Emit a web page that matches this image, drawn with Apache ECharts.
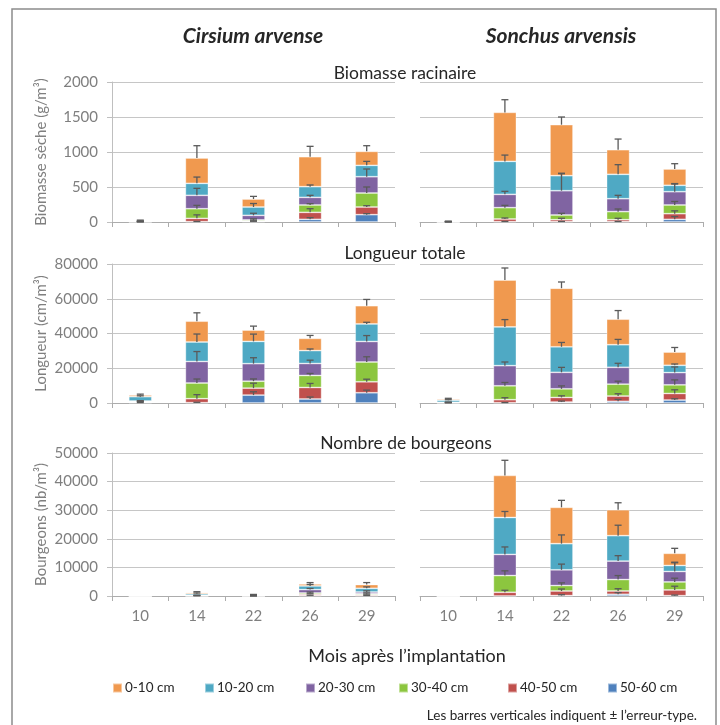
<!DOCTYPE html>
<html>
<head>
<meta charset="utf-8">
<script src="https://cdn.jsdelivr.net/npm/echarts@6/dist/echarts.min.js"></script>
<style>html,body{margin:0;padding:0;background:#fff}#c{width:720px;height:725px}</style>
</head>
<body>
<div id="c"></div>
<script>
// ---------- DATA ----------
const categories = ['10', '14', '22', '26', '29'];
const depths = ['0-10 cm', '10-20 cm', '20-30 cm', '30-40 cm', '40-50 cm', '50-60 cm'];
const species = ['Cirsium arvense', 'Sonchus arvensis'];
const panelTitles = ['Biomasse racinaire', 'Longueur totale', 'Nombre de bourgeons'];
const yNames = ['Biomasse sèche (g/m³)', 'Longueur (cm/m³)', 'Bourgeons (nb/m³)'];
const yMax = [2000, 80000, 50000];
const yStep = [500, 20000, 10000];

// rows: depth 0-10, 10-20, 20-30, 30-40, 40-50, 50-60 ; columns: months 10,14,22,26,29
const cirsiumBiomass = [
  [6, 362, 114, 428, 200],
  [5, 171, 119, 153, 162],
  [3, 191, 65, 109, 233],
  [2, 138, 15, 105, 200],
  [2, 47, 10, 100, 109],
  [1, 5, 5, 38, 105]
];
const cirsiumBiomassErr = [
  [8, 176, 38, 148, 81],
  [3, 90, 50, 24, 57],
  [2, 100, 30, 29, 110],
  [2, 48, 15, 19, 86],
  [1, 50, 10, 52, 19],
  [1, 3, 5, 24, 14]
];
const sonchusBiomass = [
  [5, 700, 728, 352, 233],
  [2, 471, 215, 348, 91],
  [1, 190, 347, 185, 190],
  [1, 162, 67, 115, 124],
  [1, 38, 28, 28, 81],
  [0, 5, 5, 5, 38]
];
const sonchusBiomassErr = [
  [3, 181, 110, 152, 76],
  [1, 90, 28, 138, 25],
  [1, 43, 250, 48, 110],
  [1, 33, 24, 38, 50],
  [1, 14, 20, 20, 40],
  [0, 3, 3, 3, 40]
];
const cirsiumLength = [
  [950, 12000, 6500, 7050, 10500],
  [2500, 11200, 12800, 7400, 10100],
  [300, 12400, 10100, 6900, 11800],
  [250, 9000, 4000, 6900, 11400],
  [450, 2300, 4000, 6650, 6300],
  [150, 200, 4550, 2300, 5900]
];
const cirsiumLengthErr = [
  [500, 4800, 2300, 1700, 3600],
  [500, 4600, 4200, 950, 950],
  [200, 5700, 3400, 1900, 3400],
  [200, 2300, 1300, 1150, 3000],
  [300, 2300, 2850, 2300, 1500],
  [100, 200, 1900, 1150, 1500]
];
const sonchusLength = [
  [700, 27000, 33700, 14700, 7600],
  [1200, 22300, 14700, 13000, 4200],
  [150, 11600, 9500, 9700, 7050],
  [100, 8000, 4950, 6850, 4950],
  [100, 1750, 2650, 3050, 3800],
  [50, 150, 550, 950, 1700]
];
const sonchusLengthErr = [
  [400, 6900, 3600, 4950, 2650],
  [300, 4200, 2500, 3050, 750],
  [100, 2100, 2850, 2300, 3250],
  [100, 1900, 1700, 1700, 2850],
  [100, 1150, 950, 1350, 2100],
  [50, 100, 550, 1150, 750]
];
const cirsiumBuds = [
  [0, 450, 120, 700, 1300],
  [0, 550, 250, 1290, 1290],
  [0, 100, 50, 1170, 600],
  [0, 50, 30, 470, 350],
  [0, 50, 20, 440, 350],
  [0, 0, 0, 150, 100]
];
const cirsiumBudsErr = [
  [0, 300, 80, 470, 700],
  [0, 300, 80, 500, 500],
  [0, 100, 30, 400, 400],
  [0, 50, 20, 300, 300],
  [0, 50, 20, 200, 200],
  [0, 0, 0, 100, 100]
];
const sonchusBuds = [
  [0, 14700, 12700, 9050, 4250],
  [0, 12900, 9150, 8900, 2100],
  [0, 7400, 5500, 6450, 3650],
  [0, 5850, 1900, 4000, 2800],
  [0, 1300, 1600, 1150, 2000],
  [0, 0, 150, 600, 120]
];
const sonchusBudsErr = [
  [0, 5300, 2450, 2450, 1750],
  [0, 2100, 3050, 3650, 1150],
  [0, 2600, 2000, 1900, 3050],
  [0, 1650, 950, 1400, 1300],
  [0, 700, 700, 800, 1300],
  [0, 0, 300, 600, 200]
];

// ---------- STYLE / LAYOUT ----------
const colors = ['#F0994F', '#4FA9C4', '#8064A2', '#8CC63F', '#C0504D', '#4F81BD'];
const FONT = 'Lato';
const panels = [
  [cirsiumBiomass, cirsiumBiomassErr], [sonchusBiomass, sonchusBiomassErr],
  [cirsiumLength, cirsiumLengthErr], [sonchusLength, sonchusLengthErr],
  [cirsiumBuds, cirsiumBudsErr], [sonchusBuds, sonchusBudsErr]
];
const gridTops = [82, 264, 453];
const gridHeights = [140, 139, 143];
const gridLefts = [112, 420];
const gridWidth = 283;

const grid = [], xAxis = [], yAxis = [], series = [];
for (let g = 0; g < 6; g++) {
  const row = Math.floor(g / 2), col = g % 2;
  grid.push({ left: gridLefts[col], top: gridTops[row], width: gridWidth, height: gridHeights[row], containLabel: false });
  xAxis.push({
    gridIndex: g, type: 'category', data: categories,
    axisLine: { lineStyle: { color: '#ACACAC', width: 1 } },
    axisTick: { show: true, length: 5, lineStyle: { color: '#ACACAC' } },
    axisLabel: { show: row === 2, color: '#7F7F7F', fontSize: 15, fontFamily: FONT, margin: 13 },
    splitLine: { show: false }
  });
  yAxis.push({
    gridIndex: g, type: 'value', min: 0, max: yMax[row], interval: yStep[row],
    axisLine: { show: col === 0, lineStyle: { color: '#BFBFBF', width: 1 } },
    axisTick: { show: col === 0, length: 5, lineStyle: { color: '#BFBFBF' } },
    axisLabel: { show: col === 0, color: '#7F7F7F', fontSize: 15, fontFamily: FONT, margin: 14, formatter: v => String(v) },
    splitLine: { lineStyle: { color: '#C6C6C6', width: 1 } },
    name: col === 0 ? yNames[row] : '',
    nameLocation: 'middle', nameGap: 63,
    nameTextStyle: { color: '#7F7F7F', fontSize: 15, fontFamily: FONT }
  });
  const vals = panels[g][0], errs = panels[g][1];
  // bars: bottom (50-60) first
  for (let d = depths.length - 1; d >= 0; d--) {
    series.push({
      type: 'bar', name: depths[d], xAxisIndex: g, yAxisIndex: g, stack: 's' + g,
      data: vals[d], barWidth: 23,
      itemStyle: { color: colors[d], borderColor: 'rgba(255,255,255,0.45)', borderWidth: 0.8 },
      emphasis: { disabled: true }
    });
  }
  // error bars at cumulative top of each segment
  const errData = [];
  for (let j = 0; j < categories.length; j++) {
    let cum = 0;
    for (let d = depths.length - 1; d >= 0; d--) {
      cum += vals[d][j];
      if (vals[d][j] > 0 || errs[d][j] > 0) errData.push([j, cum, cum + errs[d][j]]);
    }
  }
  series.push({
    type: 'custom', xAxisIndex: g, yAxisIndex: g, z: 5, silent: true,
    encode: { x: 0, y: [1, 2] },
    data: errData,
    renderItem: function (params, api) {
      const x = api.value(0);
      const p0 = api.coord([x, api.value(1)]);
      const p1 = api.coord([x, api.value(2)]);
      const st = { stroke: '#5A5A5A', lineWidth: 1.3 };
      return {
        type: 'group', children: [
          { type: 'line', shape: { x1: p0[0], y1: p0[1], x2: p1[0], y2: p1[1] }, style: st },
          { type: 'line', shape: { x1: p1[0] - 3.5, y1: p1[1], x2: p1[0] + 3.5, y2: p1[1] }, style: st }
        ]
      };
    }
  });
}

const legendLeft = [112, 204, 305, 398, 507, 607];
const legend = depths.map((d, k) => ({
  data: [d], left: legendLeft[k], top: 681, padding: 0, itemGap: 0,
  itemWidth: 9, itemHeight: 9, icon: 'rect', selectedMode: false,
  textStyle: { fontSize: 13.5, color: '#262626', fontFamily: FONT, padding: [0, 0, 0, -2] }
}));

const textColor = '#262626';
const graphic = [
  { type: 'rect', shape: { x: 12, y: 9, width: 704, height: 800 }, style: { fill: 'none', stroke: '#8C8C8C', lineWidth: 1.5 }, silent: true },
  { type: 'text', x: 253, y: 36, style: { text: species[0], fontSize: 21, fontWeight: 'bold', fontStyle: 'italic', fontFamily: FONT, fill: textColor, align: 'center', verticalAlign: 'middle' } },
  { type: 'text', x: 561, y: 36, style: { text: species[1], fontSize: 21, fontWeight: 'bold', fontStyle: 'italic', fontFamily: FONT, fill: textColor, align: 'center', verticalAlign: 'middle' } },
  { type: 'text', x: 405, y: 73, style: { text: panelTitles[0], fontSize: 17.5, fontFamily: FONT, fill: textColor, align: 'center', verticalAlign: 'middle' } },
  { type: 'text', x: 405, y: 253, style: { text: panelTitles[1], fontSize: 17.5, fontFamily: FONT, fill: textColor, align: 'center', verticalAlign: 'middle' } },
  { type: 'text', x: 406, y: 443, style: { text: panelTitles[2], fontSize: 17.5, fontFamily: FONT, fill: textColor, align: 'center', verticalAlign: 'middle' } },
  { type: 'text', x: 407, y: 656, style: { text: 'Mois après l’implantation', fontSize: 18, fontFamily: FONT, fill: textColor, align: 'center', verticalAlign: 'middle' } },
  { type: 'text', x: 697, y: 716, style: { text: 'Les barres verticales indiquent ± l’erreur-type.', fontSize: 13.5, fontFamily: FONT, fill: textColor, align: 'right', verticalAlign: 'middle' } }
];

const chart = echarts.init(document.getElementById('c'), null, { renderer: 'canvas' });
chart.setOption({
  animation: false,
  backgroundColor: '#fff',
  textStyle: { fontFamily: FONT },
  grid, xAxis, yAxis, series, legend, graphic
});
</script>
</body>
</html>
